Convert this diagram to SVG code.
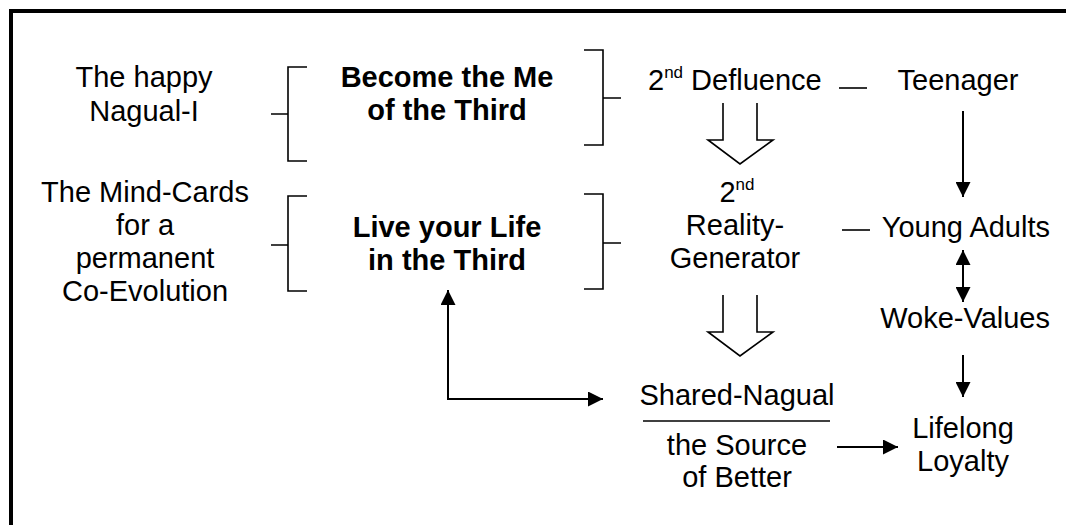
<svg xmlns="http://www.w3.org/2000/svg" width="1066" height="525" viewBox="0 0 1066 525">
<style>
text{font-family:"Liberation Sans",Arial,sans-serif;font-size:29px;fill:#000}
.c{text-anchor:middle}
.e{text-anchor:end}
.b{font-weight:bold}
.sup{font-size:17px}
.br{fill:none;stroke:#000;stroke-width:1.6}
.ln{fill:none;stroke:#000;stroke-width:2}
.ho{fill:#fff;stroke:#000;stroke-width:1.6}
</style>
<defs>
<marker id="ah" viewBox="0 0 10 10" refX="10" refY="5" markerWidth="7.5" markerHeight="7.5" markerUnits="strokeWidth" orient="auto-start-reverse">
<path d="M0,0 L10,5 L0,10 Z" fill="#000"/>
</marker>
</defs>
<rect width="1066" height="525" fill="#fff"/>
<g id="frame">
<line x1="9" y1="11" x2="1066" y2="11" stroke="#000" stroke-width="4"/>
<line x1="11" y1="9" x2="11" y2="525" stroke="#000" stroke-width="4"/>
</g>
<g id="n-happy"><text class="c" x="144" y="87">The happy</text><text class="c" x="144" y="121">Nagual-I</text></g>
<g id="n-mindcards"><text class="c" x="145" y="202">The Mind-Cards</text><text class="c" x="145" y="235">for a</text><text class="c" x="145" y="268">permanent</text><text class="c" x="145" y="301">Co-Evolution</text></g>
<g id="n-become"><text class="c b" x="447" y="87">Become the Me</text><text class="c b" x="447" y="120">of the Third</text></g>
<g id="n-live"><text class="c b" x="447" y="237">Live your Life</text><text class="c b" x="447" y="270">in the Third</text></g>
<g id="n-defluence"><text x="648" y="90">2<tspan class="sup" dy="-12">nd</tspan><tspan dy="12"> Defluence</tspan></text></g>
<g id="n-teenager"><text class="c" x="958" y="90">Teenager</text></g>
<g id="n-generator"><text class="c" x="737" y="202">2<tspan class="sup" dy="-12">nd</tspan></text><text class="c" x="735" y="235">Reality-</text><text class="c" x="735" y="268">Generator</text></g>
<g id="n-young"><text class="e" x="1050" y="237">Young Adults</text></g>
<g id="n-woke"><text class="e" x="1050" y="328">Woke-Values</text></g>
<g id="n-lifelong"><text class="c" x="963" y="438">Lifelong</text><text class="c" x="963" y="471">Loyalty</text></g>
<g id="n-shared"><text class="c" x="737" y="405">Shared-Nagual</text><line x1="643" y1="421" x2="830" y2="421" stroke="#000" stroke-width="1.6"/><text class="c" x="737" y="455">the Source</text><text class="c" x="737" y="487">of Better</text></g>
<g id="brackets">
<path class="br" d="M307,67 H288 V161 H307 M271,114 H288"/>
<path class="br" d="M584,50 H603 V145 H584 M603,98 H621"/>
<path class="br" d="M307,196 H288 V291 H307 M271,245 H288"/>
<path class="br" d="M584,194 H603 V289 H584 M603,243 H621"/>
</g>
<g id="connectors">
<line class="br" x1="839" y1="88" x2="867" y2="88"/>
<line class="br" x1="842" y1="230" x2="870" y2="230"/>
<path class="ho" d="M723,103 V140 H708 L740,164 L773,140 H757 V103"/>
<path class="ho" d="M723,295 V332 H708 L740,356 L773,332 H757 V295"/>
<line class="ln" x1="963" y1="111" x2="963" y2="197" marker-end="url(#ah)"/>
<line class="ln" x1="963" y1="250" x2="963" y2="302" marker-start="url(#ah)" marker-end="url(#ah)"/>
<line class="ln" x1="963" y1="355" x2="963" y2="397" marker-end="url(#ah)"/>
<line class="ln" x1="837" y1="447" x2="898" y2="447" marker-end="url(#ah)"/>
<path class="ln" d="M448,290 V399 H603" marker-start="url(#ah)" marker-end="url(#ah)"/>
</g>
</svg>
